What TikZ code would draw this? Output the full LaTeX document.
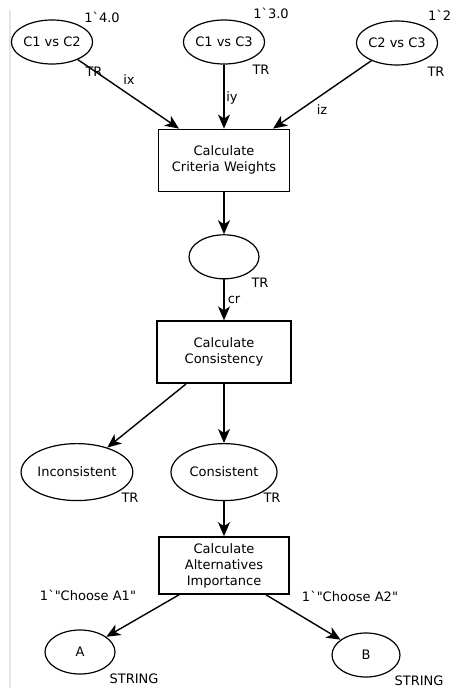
\documentclass[tikz,border=0pt]{standalone}
\usepackage{fontspec}
\setmainfont{DejaVu Sans}[Ligatures=TeXOff]
\usetikzlibrary{positioning}
\usetikzlibrary{arrows.meta}
\usetikzlibrary{shapes.geometric}

\begin{document}
\begin{tikzpicture}[x=1pt, y=-1pt,
                          >={Stealth[length=14pt, width=12pt, inset=4pt]},
                          place/.style={ellipse, draw, line width=1.2pt, minimum width=70pt, minimum height=44pt, inner sep=0pt, font=\fontsize{13}{16}\selectfont},
                          bigplace/.style={place, minimum width=106pt, minimum height=57pt},
                          transition/.style={rectangle, draw, line width=1.6pt, minimum width=131pt, minimum height=62pt, inner sep=2pt, align=center, font=\fontsize{13}{16}\selectfont},
                          inscr/.style={inner sep=0pt, font=\fontsize{13}{16}\selectfont},
                          arc/.style={->, line width=1.4pt},
                      ]
                      \useasboundingbox (0,0) rectangle (451,688);
                      \draw[gray!20, line width=2pt] (10,10) -- (10,688);

                      %Nodes
                      \node[place]        (c12)   at (52,42)               {C1 vs C2};
                      \node[place]        (c13)   at (224,42)              {C1 vs C3};
                      \node[place]        (c23)   at (397,43)              {C2 vs C3};
                      \node[transition]   (weights)   [below=64pt of c13]  {Calculate\\Criteria Weights};
                      \node[place]        (cw)    [below=42pt of weights]  {};
                      \node[transition, minimum width=134pt]   (consist)   [below=41pt of cw]   {Calculate\\Consistency};
                      \node[bigplace]     (consistent)   [below=59pt of consist]   {Consistent};
                      \node[bigplace]     (inconsistent) [left=37pt of consistent] {Inconsistent};
                      \node[transition, minimum width=130pt, minimum height=57pt]   (importance)   [below=35pt of consistent]   {Calculate\\Alternatives\\Importance};
                      \node[place]        (a)     at (80,652)              {A};
                      \node[place, minimum width=68pt]   (b)   at (366,655)   {B};

                      %Inscriptions
                      \node[inscr]        (m12)   at (102,17)   {1`4.0};
                      \node[inscr]        (m13)   at (271,13)   {1`3.0};
                      \node[inscr, anchor=west]   (m23)   at (428,15)   {1`2};
                      \node[inscr]        (t12)   at (94,72)    {TR};
                      \node[inscr]        (t13)   at (261,70)   {TR};
                      \node[inscr]        (t23)   at (436,72)   {TR};
                      \node[inscr]        (tcw)   at (260,283)  {TR};
                      \node[inscr]        (tin)   at (130,498)  {TR};
                      \node[inscr]        (tcon)  at (272,498)  {TR};
                      \node[inscr]        (ta)    at (134,679)  {STRING};
                      \node[inscr]        (tb)    at (419,681)  {STRING};
                      \node[inscr]        (ix)    at (129,80)   {ix};
                      \node[inscr]        (iy)    at (232,98)   {iy};
                      \node[inscr]        (iz)    at (322,110)  {iz};
                      \node[inscr]        (cr)    at (234,300)  {cr};
                      \node[inscr]        (ca1)   at (88,595)   {1`"Choose A1"};
                      \node[inscr]        (ca2)   at (350,596)  {1`"Choose A2"};

                      %Lines
                      \draw[arc] (c12) -- ([xshift=-45pt]weights.north);
                      \draw[arc] (c13.south) -- (weights.north);
                      \draw[arc] (c23) -- ([xshift=49pt]weights.north);
                      \draw[arc] (weights.south) -- (cw.north);
                      \draw[arc] (cw.south) -- (consist.north);
                      \draw[arc] ([xshift=-38pt]consist.south) -- (inconsistent);
                      \draw[arc] (consist.south) -- (consistent.north);
                      \draw[arc] (consistent.south) -- (importance.north);
                      \draw[arc] ([xshift=-45pt]importance.south) -- (a);
                      \draw[arc] ([xshift=42pt]importance.south) -- (b);
                  \end{tikzpicture}
\end{document}
